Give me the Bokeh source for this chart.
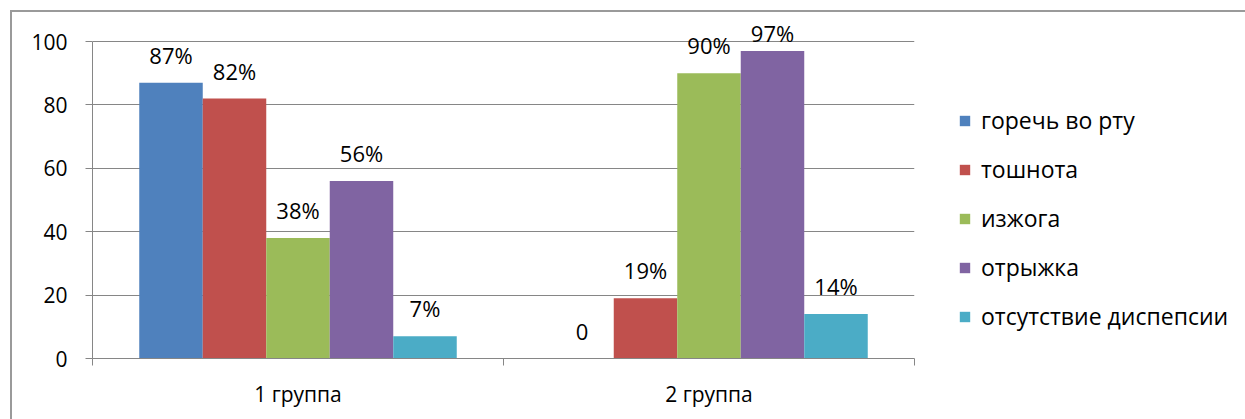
from bokeh.plotting import figure
from bokeh.models import (ColumnDataSource, LabelSet, FixedTicker, Range1d,
                          Legend, LegendItem, LinearAxis)
from bokeh.core.properties import value
from bokeh.embed import file_html
from bokeh.resources import INLINE

groups = ["1 группа", "2 группа"]
series = ["горечь во рту", "тошнота", "изжога", "отрыжка", "отсутствие диспепсии"]
colors = ["#4F81BD", "#C0504D", "#9BBB59", "#8064A2", "#4BACC6"]
values = [
    [87, 0],
    [82, 19],
    [38, 90],
    [56, 97],
    [7, 14],
]
y_ticks = [0, 20, 40, 60, 80, 100]

FONT = "Open Sans"
GRAY = "#868686"

OFF = 12  # page offset of the canvas (margin + chart frame border)
Y_MAX = 100 * (358 - OFF) / (358 - 41)  # room above 100 for the labels
LABEL_CAP = 94  # like the source, data labels stay inside the value axis

p = figure(frame_width=914 - 92, frame_height=358 - OFF, output_backend="svg",
           toolbar_location=None,
           x_range=Range1d(0, len(groups)), y_range=Range1d(0, Y_MAX),
           min_border_left=92 - OFF, min_border_right=0, min_border_top=0,
           min_border_bottom=61, x_axis_location=None)
p.styles = {"margin-left": "10px", "margin-top": "10px",
            "border-left": "2px solid #9a9a9a", "border-top": "2px solid #9a9a9a"}
p.outline_line_color = None
p.background_fill_color = "white"
p.border_fill_color = "white"

n = len(series)
bar_w = 0.1545
renderers = []
for j, (name, col, vals) in enumerate(zip(series, colors, values)):
    xs = [i + 0.5 + (j - (n - 1) / 2) * bar_w for i in range(len(groups))]
    labels = [f"{v}%" if v != 0 else "0" for v in vals]
    src = ColumnDataSource(dict(x=xs, top=vals, lab=labels,
                                ly=[min(v, LABEL_CAP) for v in vals]))
    r = p.vbar(x="x", top="top", width=bar_w, bottom=0, source=src,
               fill_color=col, line_color=None)
    renderers.append(r)
    p.add_layout(LabelSet(x="x", y="ly", text="lab", source=src,
                          text_align="center", text_baseline="alphabetic",
                          y_offset=19, text_font=value(FONT), text_font_size="22px",
                          text_color="#000000"))

# y axis
p.yaxis.ticker = FixedTicker(ticks=y_ticks, minor_ticks=[])
p.yaxis.bounds = (0, 100)
p.yaxis.axis_line_color = GRAY
p.yaxis.major_tick_line_color = GRAY
p.yaxis.major_tick_in = 0
p.yaxis.major_tick_out = 7
p.yaxis.minor_tick_line_color = None
p.yaxis.major_label_text_font = FONT
p.yaxis.major_label_text_font_size = "21px"
p.yaxis.major_label_text_color = "#000000"
p.yaxis.major_label_standoff = 18
p.ygrid.ticker = FixedTicker(ticks=y_ticks)
p.ygrid.grid_line_color = GRAY
p.xgrid.grid_line_color = None

# x axis: labels at group centres, ticks at group boundaries
xa = LinearAxis(ticker=FixedTicker(ticks=[i + 0.5 for i in range(len(groups))],
                                   minor_ticks=list(range(len(groups) + 1))),
                major_label_overrides={i + 0.5: g for i, g in enumerate(groups)})
xa.axis_line_color = GRAY
xa.major_tick_line_color = None
xa.major_tick_in = 0
xa.major_tick_out = 0
xa.minor_tick_line_color = GRAY
xa.minor_tick_in = 0
xa.minor_tick_out = 7
xa.major_label_text_font = FONT
xa.major_label_text_font_size = "21px"
xa.major_label_text_color = "#000000"
xa.major_label_standoff = 14
p.add_layout(xa, "below")

legend = Legend(items=[LegendItem(label=s, renderers=[r]) for s, r in zip(series, renderers)],
                location=(44, 26), orientation="vertical",
                label_text_font=FONT, label_text_font_size="23px",
                label_text_color="#000000",
                glyph_width=13, glyph_height=13, label_standoff=10,
                spacing=17, padding=0, margin=0,
                border_line_color=None, background_fill_alpha=0)
p.add_layout(legend, "right")

open("out.html", "w").write(file_html(p, INLINE))
